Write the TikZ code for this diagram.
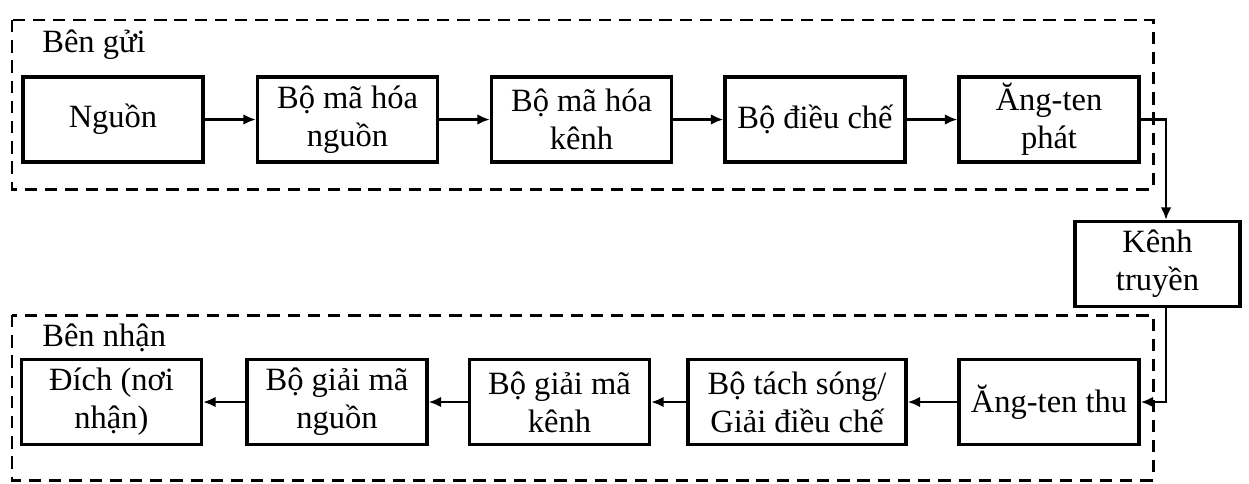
\documentclass[tikz,border=0pt]{standalone}
\usepackage{fontspec}
\setmainfont{Liberation Serif}
\usepackage{tikz}
\usetikzlibrary{arrows.meta}

\begin{document}
\begin{tikzpicture}[>={Latex[length=7pt,width=6pt]},
    khoi/.style={draw,line width=2pt,minimum width=3.6cm,minimum height=1.7cm,align=center,inner sep=2pt},
    vung/.style={line width=1.7pt,dash pattern=on 7pt off 4.5pt},
    noi/.style={line width=1.2pt,->},
    nhan/.style={anchor=west,inner sep=0pt}]
\useasboundingbox (0,0) rectangle (24.98,-9.66);
\fontsize{18.5}{21.5}\selectfont
\draw[vung] (0.24,-0.4) rectangle (23.06,-3.78);
\draw[vung] (0.24,-6.3) rectangle (23.06,-9.6);
\node[nhan] (bengui) at (0.84,-0.9) {Bên gửi};
\node[nhan] (bennhan) at (0.84,-6.76) {Bên nhận};
\node[khoi] (nguon) at (2.26,-2.39) {Nguồn};
\node[khoi] (mahoanguon) at (6.95,-2.39) {Bộ mã hóa\\nguồn};
\node[khoi] (mahoakenh) at (11.63,-2.39) {Bộ mã hóa\\kênh};
\node[khoi] (dieuche) at (16.3,-2.39) {Bộ điều chế};
\node[khoi] (angtenphat) at (20.98,-2.39) {Ăng-ten\\phát};
\node[khoi,minimum width=3.3cm] (kenhtruyen) at (23.15,-5.28) {Kênh\\truyền};
\node[khoi] (angtenthu) at (20.98,-8.04) {Ăng-ten thu};
\node[khoi,minimum width=4.36cm] (tachsong) at (15.94,-8.04) {Bộ tách sóng/\\Giải điều chế};
\node[khoi] (giaimakenh) at (11.19,-8.04) {Bộ giải mã\\kênh};
\node[khoi] (giaimanguon) at (6.74,-8.04) {Bộ giải mã\\nguồn};
\node[khoi] (dich) at (2.23,-8.04) {Đích (nơi\\nhận)};
\coordinate (re1) at (23.32,-2.39);
\coordinate (re2) at (23.32,-8.04);
\draw[noi] (nguon) -- (mahoanguon);
\draw[noi] (mahoanguon) -- (mahoakenh);
\draw[noi] (mahoakenh) -- (dieuche);
\draw[noi] (dieuche) -- (angtenphat);
\draw[noi] (angtenphat.east) -- (re1) -- (re1 |- kenhtruyen.north);
\draw[noi] (re1 |- kenhtruyen.south) -- (re2) -- (angtenthu.east);
\draw[noi] (angtenthu) -- (tachsong);
\draw[noi] (tachsong) -- (giaimakenh);
\draw[noi] (giaimakenh) -- (giaimanguon);
\draw[noi] (giaimanguon) -- (dich);
\end{tikzpicture}
\end{document}
